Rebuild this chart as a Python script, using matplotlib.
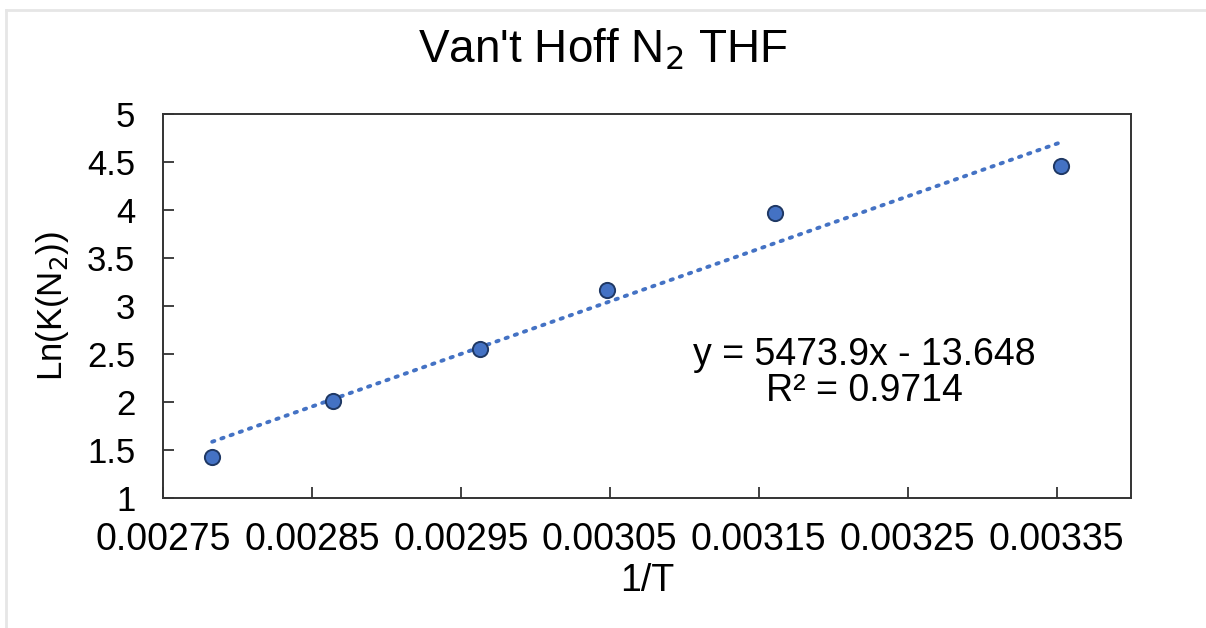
import matplotlib
matplotlib.use("Agg")
from matplotlib import pyplot as plt
from matplotlib.lines import Line2D
import numpy as np

# data
inv_t = [0.002783, 0.002864, 0.002963, 0.003048, 0.003161, 0.003353]
ln_k = [1.43, 2.01, 2.55, 3.17, 3.97, 4.46]

slope = 5473.9
intercept = -13.648
r_squared = 0.9714

x_ticks = [0.00275, 0.00285, 0.00295, 0.00305, 0.00315, 0.00325, 0.00335]
y_ticks = [1, 1.5, 2, 2.5, 3, 3.5, 4, 4.5, 5]


def main():
    plt.rcParams["font.family"] = ["Liberation Sans", "DejaVu Sans"]
    fig = plt.figure(figsize=(12.06, 6.28), dpi=100)
    ax = fig.add_axes([0.1352, 0.207, 0.8026, 0.6115])

    # light grey chart-area border (left and top)
    fig.add_artist(Line2D([0.005, 0.005], [0.0, 0.984], transform=fig.transFigure,
                          color="#e6e6e6", lw=2))
    fig.add_artist(Line2D([0.005, 1.0], [0.984, 0.984], transform=fig.transFigure,
                          color="#e6e6e6", lw=2))

    # trendline
    fit_x = np.array([min(inv_t), max(inv_t)])
    ax.plot(fit_x, slope * fit_x + intercept, linestyle=(0, (0.6, 1.9)), color="#4472c4",
            lw=2.8, dash_capstyle="round", zorder=2)

    ax.scatter(inv_t, ln_k, s=120, color="#4472c4", edgecolors="#1f3864",
               linewidths=1.4, zorder=3)

    ax.set_xlim(0.00275, 0.0034)
    ax.set_ylim(1, 5)
    ax.set_xticks(x_ticks)
    ax.set_xticklabels([f"{t:.5f}" for t in x_ticks], fontsize=27)
    ax.set_yticks(y_ticks)
    ax.set_yticklabels([f"{t:g}" for t in y_ticks], fontsize=25)
    ax.tick_params(direction="in", length=8, width=1.3, color="#333333")
    ax.tick_params(axis="x", pad=17)
    ax.tick_params(axis="y", pad=20)
    for sp in ax.spines.values():
        sp.set_color("#333333")
        sp.set_linewidth(1.4)

    ax.set_xlabel("1/T", fontsize=27)
    ax.xaxis.set_label_coords(0.5, -0.17)
    ax.set_ylabel("Ln(K(N$_2$))", fontsize=25)
    ax.yaxis.set_label_coords(-0.095, 0.5)
    fig.suptitle("Van't Hoff N$_2$ THF", fontsize=33, y=0.957)

    ax.text(0.725, 0.326, f"y = {slope}x - {abs(intercept)}\nR² = {r_squared}",
            transform=ax.transAxes, ha="center", va="center", fontsize=27,
            linespacing=0.98)

    fig.savefig("out.png", dpi=100)


if __name__ == "__main__":
    main()
